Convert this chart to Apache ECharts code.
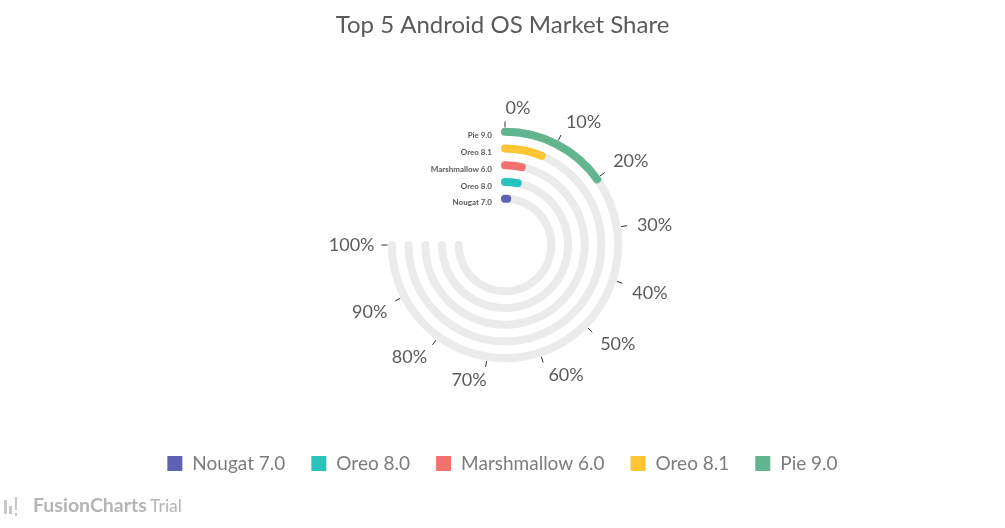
<!DOCTYPE html>
<html>
<head>
<meta charset="utf-8">
<script src="https://cdn.jsdelivr.net/npm/echarts@6/dist/echarts.min.js"></script>
<style>
  html, body { margin: 0; padding: 0; background: #fff; }
  #chart { width: 1005px; height: 528px; }
</style>
</head>
<body>
<div id="chart"></div>
<script>
// inner ring first, outer ring last
let categories = ['Nougat 7.0', 'Oreo 8.0', 'Marshmallow 6.0', 'Oreo 8.1', 'Pie 9.0'];
let shares = [1, 4.3, 4.5, 8.3, 20.2];
let trackMax = [100, 100, 100, 100, 100];
let colors = ['#5d62b5', '#29c3be', '#f2726f', '#ffc533', '#62b58f'];
let angleTicks = [0, 10, 20, 30, 40, 50, 60, 70, 80, 90, 100];

let fontName = 'Lato, "Open Sans", sans-serif';

let series = [
    {
        // grey track under each ring
        name: 'track',
        type: 'bar',
        coordinateSystem: 'polar',
        data: trackMax,
        barWidth: 8,
        barGap: '-100%',
        roundCap: true,
        silent: true,
        itemStyle: { color: '#ebebeb' },
        z: 1
    },
    {
        name: 'share',
        type: 'bar',
        coordinateSystem: 'polar',
        data: shares.map(function (v, i) {
            return { value: v, itemStyle: { color: colors[i] } };
        }),
        barWidth: 8,
        barGap: '-100%',
        roundCap: true,
        z: 3
    }
];

// empty series only to give the legend one entry per version
categories.forEach(function (name, i) {
    series.push({
        name: name,
        type: 'bar',
        coordinateSystem: 'polar',
        data: [],
        barWidth: 8,
        barGap: '-100%',
        itemStyle: { color: colors[i] }
    });
});

// small horizontal nudges so the tick labels sit like the original
let labelRich = {
    t0: { padding: [0, 0, 0, 26] },
    t10: { padding: [0, 0, 0, 3] },
    t20: { padding: [0, 0, 0, 5] },
    t30: { padding: [0, 0, 0, 6] },
    t40: { padding: [0, 0, 0, 6] },
    t50: { padding: [0, 0, 0, 5] },
    t60: { padding: [0, 0, 0, 4] },
    t70: { padding: [0, 32, 0, 0] },
    t80: { padding: [0, 3, 0, 0] },
    t90: { padding: [0, 4, 0, 0] },
    t100: { padding: [0, 3, 0, 0] }
};

let option = {
    animation: false,
    title: {
        text: 'Top 5 Android OS Market Share',
        left: 'center',
        top: 8,
        textStyle: { fontFamily: fontName, fontSize: 24, fontWeight: 'normal', color: '#5a5a5a' }
    },
    legend: {
        data: categories,
        bottom: 50,
        left: 'center',
        icon: 'rect',
        itemWidth: 15,
        itemHeight: 15,
        itemGap: 26,
        textStyle: { fontFamily: fontName, fontSize: 19, color: '#7c7c7c', padding: [0, 0, 0, 5] }
    },
    polar: {
        center: [505, 245],
        radius: [34, 117.5]
    },
    angleAxis: {
        type: 'value',
        min: 0,
        max: 100,
        interval: 10,
        startAngle: 90,
        endAngle: -180,
        clockwise: true,
        axisLine: { show: false },
        splitLine: { show: false },
        axisTick: { show: true, length: 6, lineStyle: { color: '#333' } },
        axisLabel: {
            fontFamily: fontName,
            fontSize: 18,
            color: '#5b5b5b',
            margin: 10,
            rich: labelRich,
            formatter: function (v) {
                return angleTicks.indexOf(v) >= 0 ? '{t' + v + '|' + v + '%}' : '';
            }
        }
    },
    radiusAxis: {
        type: 'category',
        data: categories,
        axisLine: { show: false },
        axisTick: { show: false },
        splitLine: { show: false },
        axisLabel: {
            interval: 0,
            fontFamily: fontName,
            fontSize: 8,
            fontWeight: 'bold',
            color: '#5a5a5a',
            margin: 13
        }
    },
    graphic: [
        { type: 'rect', left: 4, top: 500, shape: { width: 3, height: 14 }, style: { fill: '#c8c8c8' } },
        { type: 'rect', left: 9, top: 506, shape: { width: 3, height: 8 }, style: { fill: '#c8c8c8' } },
        { type: 'rect', left: 15, top: 497, shape: { width: 2, height: 13 }, style: { fill: '#c8c8c8' } },
        { type: 'rect', left: 15, top: 513, shape: { width: 2, height: 3 }, style: { fill: '#c8c8c8' } },
        {
            type: 'text',
            left: 33,
            top: 496,
            style: {
                text: '{a|FusionCharts} {b|Trial}',
                rich: {
                    a: { fontFamily: fontName, fontSize: 19.5, fontWeight: 'bold', fill: '#b5b5b5' },
                    b: { fontFamily: fontName, fontSize: 17.5, fill: '#b5b5b5' }
                }
            }
        }
    ],
    series: series
};

let chart = echarts.init(document.getElementById('chart'));
chart.setOption(option);
</script>
</body>
</html>
